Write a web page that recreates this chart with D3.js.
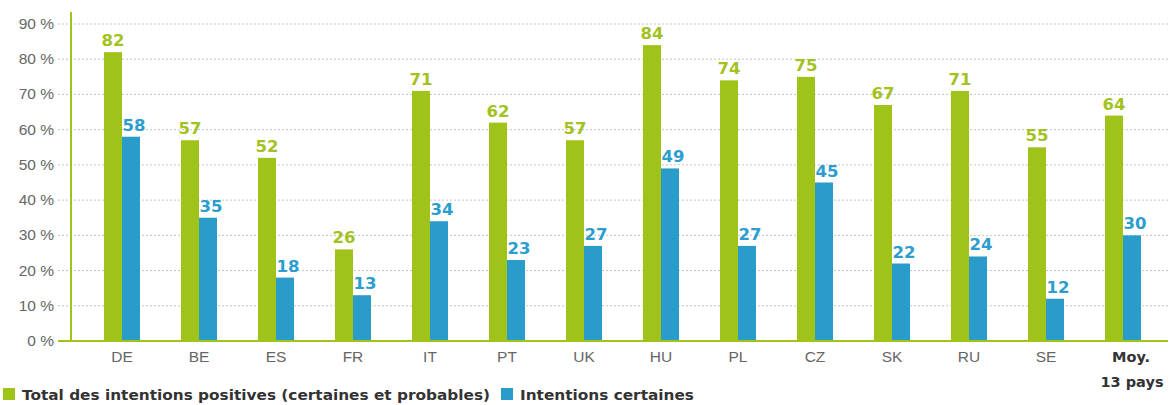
<!DOCTYPE html>
<html>
<head>
<meta charset="utf-8">
<script src="https://cdn.jsdelivr.net/npm/d3@7"></script>
<style>
  html, body { margin: 0; padding: 0; background: #fff; }
  svg { display: block; font-family: "Liberation Sans", Arial, sans-serif; }
  .bold { font-family: "DejaVu Sans", sans-serif; font-weight: bold; }
</style>
</head>
<body>
<div id="chart"></div>
<script>
const categories = ['DE','BE','ES','FR','IT','PT','UK','HU','PL','CZ','SK','RU','SE','Moy.'];
const totalPositive = [82, 57, 52, 26, 71, 62, 57, 84, 74, 75, 67, 71, 55, 64];
const certain = [58, 35, 18, 13, 34, 23, 27, 49, 27, 45, 22, 24, 12, 30];
const yTicks = [0, 10, 20, 30, 40, 50, 60, 70, 80, 90];
const legendLabels = ['Total des intentions positives (certaines et probables)', 'Intentions certaines'];

const GREEN = '#a0c31a', BLUE = '#2a9cc9';
const GREEN_TXT = '#a3c21f', BLUE_TXT = '#2b9dce';

const W = 1176, H = 405;
const axisX = 71, plotRight = 1168;
const y0 = 341, yTop = 24;

const svg = d3.select('#chart').append('svg').attr('width', W).attr('height', H);

const y = d3.scaleLinear().domain([0, 90]).range([y0, yTop]);
const x = d3.scaleBand().domain(categories).range([83.5, 1161.5]).padding(0);
const barW = 18;

// Grid
yTicks.filter(t => t > 0).forEach(t => {
  svg.append('line').attr('x1', 58).attr('x2', plotRight)
    .attr('y1', y(t)).attr('y2', y(t))
    .attr('stroke', '#c4c4c4').attr('stroke-width', 1).attr('stroke-dasharray', '2,2');
});

// Y tick labels
yTicks.forEach(t => {
  svg.append('text').attr('x', 54).attr('y', y(t) + 5)
    .attr('text-anchor', 'end').style('font-size', '15.5px').style('fill', '#666')
    .text(t + ' %');
});

// Bars
categories.forEach((c, i) => {
  const cx = x(c) + x.bandwidth() / 2;
  svg.append('rect').attr('x', cx - barW).attr('y', y(totalPositive[i]))
    .attr('width', barW).attr('height', y0 - y(totalPositive[i])).attr('fill', GREEN);
  svg.append('rect').attr('x', cx).attr('y', y(certain[i]))
    .attr('width', barW).attr('height', y0 - y(certain[i])).attr('fill', BLUE);
  svg.append('text').attr('class', 'bold').attr('x', cx - barW / 2).attr('y', y(totalPositive[i]) - 6)
    .attr('text-anchor', 'middle').style('font-size', '16.5px')
    .style('fill', GREEN_TXT).text(totalPositive[i]);
  svg.append('text').attr('class', 'bold').attr('x', cx + barW / 2 + 3).attr('y', y(certain[i]) - 6)
    .attr('text-anchor', 'middle').style('font-size', '16.5px')
    .style('fill', BLUE_TXT).text(certain[i]);
});

// Axes lines
svg.append('line').attr('x1', axisX).attr('x2', axisX).attr('y1', 12).attr('y2', y0 + 1)
  .attr('stroke', GREEN).attr('stroke-width', 2);
svg.append('line').attr('x1', 58).attr('x2', plotRight).attr('y1', y0).attr('y2', y0)
  .attr('stroke', GREEN).attr('stroke-width', 2);

// X labels
categories.forEach((c, i) => {
  const cx = x(c) + x.bandwidth() / 2;
  const last = i === categories.length - 1;
  svg.append('text').attr('class', last ? 'bold' : null).attr('x', last ? cx + 8 : cx).attr('y', 362)
    .attr('text-anchor', 'middle').style('font-size', last ? '14.5px' : '15.5px')
    .style('fill', last ? '#333' : '#666')
    .text(c);
  if (last) {
    svg.append('text').attr('class', 'bold').attr('x', cx + 9).attr('y', 387)
      .attr('text-anchor', 'middle').style('font-size', '14.5px')
      .style('fill', '#333').text('13 pays');
  }
});

// Legend
const lg = svg.append('g');
lg.append('rect').attr('x', 3).attr('y', 388).attr('width', 12).attr('height', 12).attr('fill', GREEN);
lg.append('text').attr('class', 'bold').attr('x', 22).attr('y', 400)
  .attr('textLength', 468).attr('lengthAdjust', 'spacingAndGlyphs')
  .style('font-size', '14.5px').style('fill', '#333')
  .text(legendLabels[0]);
lg.append('rect').attr('x', 501).attr('y', 388).attr('width', 12).attr('height', 12).attr('fill', BLUE);
lg.append('text').attr('class', 'bold').attr('x', 520).attr('y', 400)
  .attr('textLength', 174).attr('lengthAdjust', 'spacingAndGlyphs')
  .style('font-size', '14.5px').style('fill', '#333')
  .text(legendLabels[1]);
</script>
</body>
</html>
